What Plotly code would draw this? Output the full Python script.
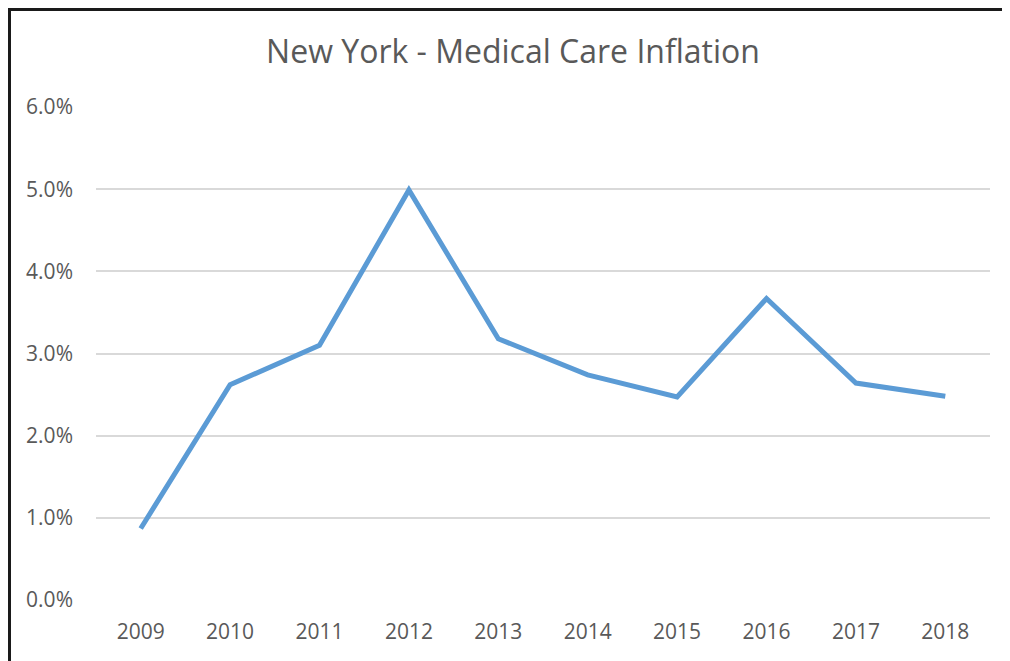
import plotly.graph_objects as go

years = ["2009", "2010", "2011", "2012", "2013", "2014", "2015", "2016", "2017", "2018"]
inflation = [0.0087, 0.0262, 0.0310, 0.0499, 0.0318, 0.0274, 0.0247, 0.0367, 0.0264, 0.0248]
y_ticks = [0, 0.01, 0.02, 0.03, 0.04, 0.05, 0.06]
title_text = "New York - Medical Care Inflation"

# page has an 8px body margin; figure coords = page coords - 8
W, H = 1002, 653
L, R, T, B = 88, 20, 99, 61
pw = W - L - R
ph = H - T - B

def px(x):
    return (x - L) / pw

def py(y):
    return (H - B - y) / ph

fig = go.Figure()
fig.add_trace(go.Scatter(
    x=years, y=inflation, mode="lines",
    line=dict(color="#5B9BD5", width=5),
    hoverinfo="skip",
))

fig.update_layout(
    width=W, height=H,
    margin=dict(l=L, r=R, t=T, b=B),
    paper_bgcolor="white", plot_bgcolor="white",
    showlegend=False,
    font=dict(family="Open Sans", color="#595959"),
    title=dict(text=title_text, x=505 / W, xanchor="center",
               y=1 - 44 / H, yanchor="middle", yref="container", xref="container",
               font=dict(size=32, color="#595959", family="Open Sans")),
    xaxis=dict(type="category", range=[-0.5, 9.5], showgrid=False, zeroline=False,
               showline=False, ticks="", tickfont=dict(size=21, color="#595959"),
               ticklabelstandoff=17),
    yaxis=dict(range=[0, 0.06], tickvals=y_ticks, tickformat=".1%",
               showgrid=True, gridcolor="#D9D9D9", gridwidth=1.5,
               zeroline=False, showline=False, ticks="",
               tickfont=dict(size=21, color="#595959"),
               ticklabelstandoff=22),
    shapes=[dict(type="rect", xref="paper", yref="paper",
                 x0=px(1.5), x1=px(1030), y0=py(690), y1=py(1.5),
                 line=dict(color="#1a1a1a", width=3), layer="above")],
)

fig.write_html("out.html")
